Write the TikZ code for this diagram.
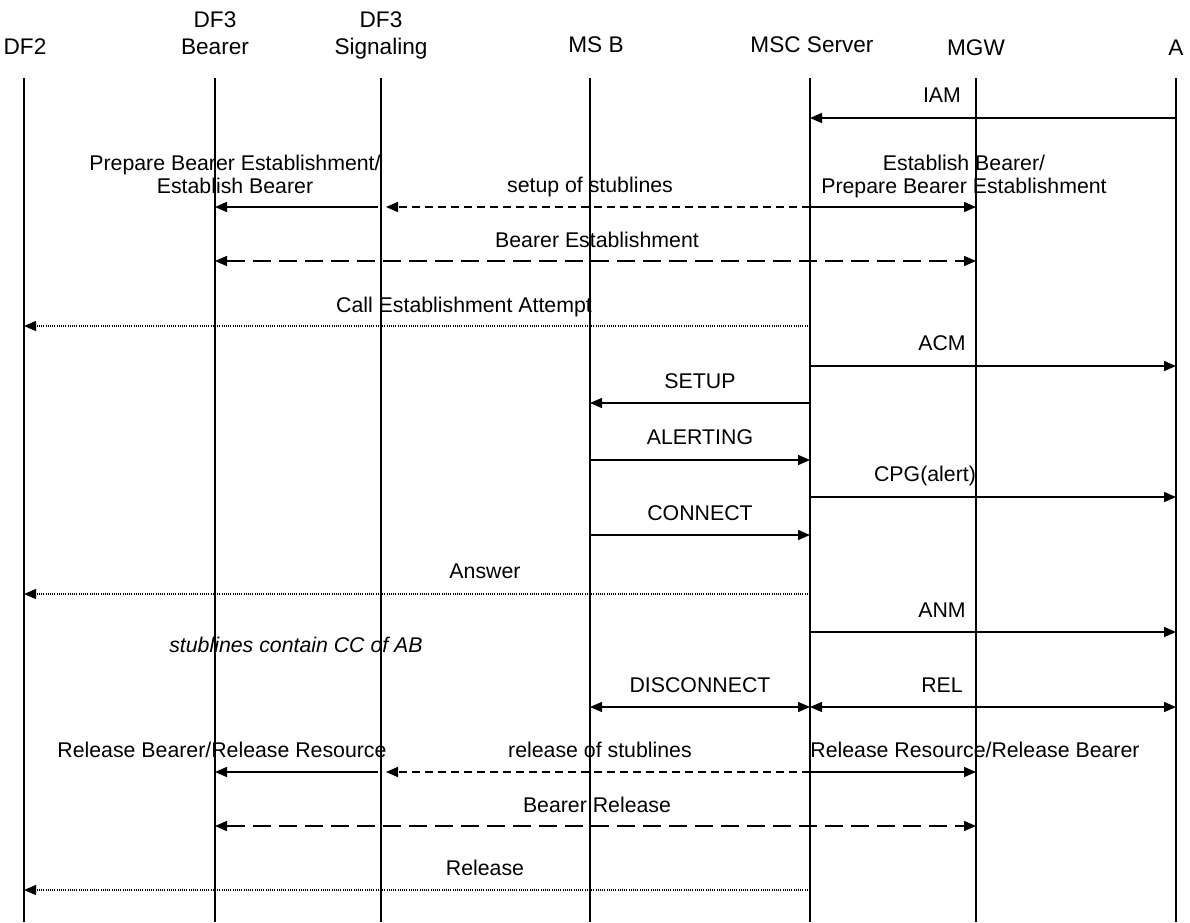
\documentclass[tikz,border=0pt]{standalone}
\usepackage{fontspec}
\setmainfont{Liberation Sans}
\usetikzlibrary{arrows.meta}
\begin{document}
\begin{tikzpicture}[x=0.5pt,y=-0.5pt,
 life/.style={line width=0.6pt},
 msg/.style={line width=0.75pt,-{Triangle[length=6pt,width=5pt]}},
 bimsg/.style={line width=0.75pt,{Triangle[length=6pt,width=5pt]}-{Triangle[length=6pt,width=5pt]}},
 shortdash/.style={dash pattern=on 4pt off 2.5pt},
 longdash/.style={dash pattern=on 9pt off 4pt},
 dots/.style={line width=0.6pt,dash pattern=on 0.5pt off 0.6pt},
 lbl/.style={anchor=base,inner sep=0pt,font=\fontsize{10.65pt}{12pt}\selectfont},
 hdr/.style={anchor=base,inner sep=0pt,font=\fontsize{11.3pt}{13pt}\selectfont}]
\fill[white] (0,0) rectangle (1190,922);
\useasboundingbox (0,0) rectangle (1190,922);
% lifelines
\coordinate (DFtwo) at (24,78);
\coordinate (Bea) at (215,78);
\coordinate (Sig) at (381,78);
\coordinate (MSB) at (590,78);
\coordinate (MSC) at (810,78);
\coordinate (MGW) at (976,78);
\coordinate (A) at (1176,78);
\foreach \p in {DFtwo,Bea,Sig,MSB,MSC,MGW,A}
  \draw[life] (\p) -- (\p |- 0,922);
% headers
\node[hdr] (hDF2) at (25,54) {DF2};
\node[hdr] (hBea1) at (215,27) {DF3};
\node[hdr] (hBea2) at (215,54) {Bearer};
\node[hdr] (hSig1) at (381,27) {DF3};
\node[hdr] (hSig2) at (381,54) {Signaling};
\node[hdr] (hMSB) at (596,52) {MS B};
\node[hdr] (hMSC) at (812,52) {MSC Server};
\node[hdr] (hMGW) at (976,55) {MGW};
\node[hdr] (hA) at (1176,55) {A};
% IAM
\draw[msg] (A |- 0,118) -- (MSC |- 0,118);
\node[lbl] (lIAM) at (942,102.5) {IAM};
% bearer setup
\draw[msg,shorten <=1.5pt] (Sig |- 0,207) -- (Bea |- 0,207);
\node[lbl] (lPrep1) at (235,170.5) {Prepare Bearer Establishment/};
\node[lbl] (lPrep2) at (235,193.5) {Establish Bearer};
\draw[msg,shortdash,shorten >=2.5pt] (MSC |- 0,207) -- (Sig |- 0,207);
\node[lbl] (lSetup) at (590,192.5) {setup of stublines};
\draw[msg] (MSC |- 0,207) -- (MGW |- 0,207);
\node[lbl] (lEst1) at (964,170.5) {Establish Bearer/};
\node[lbl] (lEst2) at (964,193.5) {Prepare Bearer Establishment};
\draw[bimsg,longdash] (Bea |- 0,261) -- (MGW |- 0,261);
\node[lbl] (lBE) at (597,247.5) {Bearer Establishment};
\draw[msg,dots] (MSC |- 0,326) -- (DFtwo |- 0,326);
\node[lbl] (lCEA) at (464,312.5) {Call Establishment Attempt};
% call
\draw[msg] (MSC |- 0,366) -- (A |- 0,366);
\node[lbl] (lACM) at (942,350.5) {ACM};
\draw[msg] (MSC |- 0,403) -- (MSB |- 0,403);
\node[lbl] (lSETUP) at (700,388.5) {SETUP};
\draw[msg] (MSB |- 0,460) -- (MSC |- 0,460);
\node[lbl] (lALERT) at (700,444.5) {ALERTING};
\draw[msg] (MSC |- 0,497) -- (A |- 0,497);
\node[lbl] (lCPG) at (925,481.5) {CPG(alert)};
\draw[msg] (MSB |- 0,535) -- (MSC |- 0,535);
\node[lbl] (lCONN) at (700,520.5) {CONNECT};
\draw[msg,dots] (MSC |- 0,594) -- (DFtwo |- 0,594);
\node[lbl] (lAns) at (485,578.5) {Answer};
\draw[msg] (MSC |- 0,632) -- (A |- 0,632);
\node[lbl] (lANM) at (942,617.5) {ANM};
\node[lbl,font=\fontsize{10.65pt}{12pt}\selectfont\itshape] (lCC) at (296,652.5) {stublines contain CC of AB};
% release
\draw[bimsg] (MSB |- 0,707) -- (MSC |- 0,707);
\node[lbl] (lDISC) at (700,692.5) {DISCONNECT};
\draw[bimsg] (MSC |- 0,707) -- (A |- 0,707);
\node[lbl] (lREL) at (942,692.5) {REL};
\draw[msg,shorten <=1.5pt] (Sig |- 0,772) -- (Bea |- 0,772);
\node[lbl] (lRB) at (222,757.5) {Release Bearer/Release Resource};
\draw[msg,shortdash,shorten >=2.5pt] (MSC |- 0,772) -- (Sig |- 0,772);
\node[lbl] (lRoS) at (600,757.5) {release of stublines};
\draw[msg] (MSC |- 0,772) -- (MGW |- 0,772);
\node[lbl] (lRR) at (975,757.5) {Release Resource/Release Bearer};
\draw[bimsg,longdash] (Bea |- 0,826) -- (MGW |- 0,826);
\node[lbl] (lBR) at (597,812.5) {Bearer Release};
\draw[msg,dots] (MSC |- 0,890) -- (DFtwo |- 0,890);
\node[lbl] (lRel) at (485,875.5) {Release};
\end{tikzpicture}
\end{document}
